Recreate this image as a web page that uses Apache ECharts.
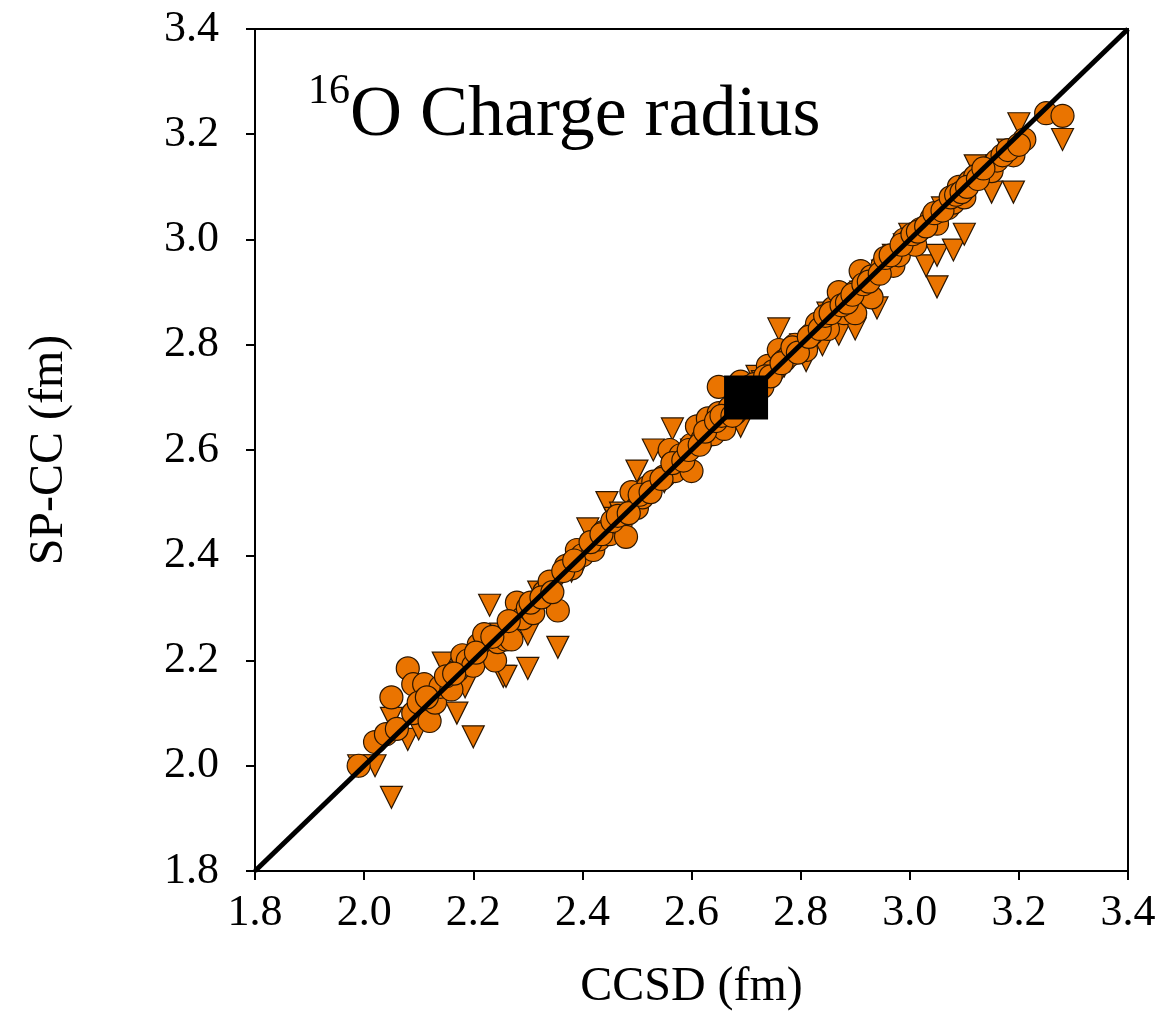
<!DOCTYPE html>
<html>
<head>
<meta charset="utf-8">
<script src="https://cdn.jsdelivr.net/npm/echarts@6/dist/echarts.min.js"></script>
<style>
  html, body { margin: 0; padding: 0; background: #fff; }
  #chart { width: 1163px; height: 1016px; }
</style>
</head>
<body>
<div id="chart"></div>
<script>
// Axis range and ticks (fm)
const axisMin = 1.8;
const axisMax = 3.4;
const tickStep = 0.2;

// [CCSD, SP-CC] pairs, circle-marker set
const circlePoints = [
  [1.99,2.00],[2.02,2.045],[2.04,2.06],[2.05,2.13],[2.06,2.07],[2.08,2.185],[2.09,2.155],[2.09,2.10],
  [2.11,2.155],[2.10,2.12],[2.12,2.085],[2.13,2.12],[2.14,2.15],[2.16,2.145],[2.15,2.17],[2.17,2.18],
  [2.18,2.21],[2.19,2.20],[2.20,2.19],[2.21,2.23],[2.22,2.25],[2.24,2.20],[2.245,2.235],[2.26,2.24],
  [2.27,2.24],[2.28,2.31],[2.29,2.28],[2.30,2.30],[2.31,2.29],[2.33,2.33],[2.34,2.35],[2.355,2.295],
  [2.37,2.38],[2.38,2.375],[2.39,2.41],[2.40,2.40],[2.42,2.41],[2.43,2.43],[2.44,2.445],[2.45,2.44],
  [2.47,2.46],[2.48,2.435],[2.49,2.52],[2.50,2.49],[2.51,2.51],[2.52,2.53],[2.53,2.54],[2.55,2.55],
  [2.56,2.60],[2.57,2.56],[2.58,2.59],[2.60,2.56],[2.60,2.61],[2.61,2.645],[2.62,2.62],[2.63,2.66],
  [2.64,2.63],[2.65,2.67],[2.65,2.72],[2.66,2.64],[2.67,2.68],[2.68,2.67],[2.69,2.73],[2.72,2.71],
  [2.73,2.72],[2.74,2.76],[2.75,2.75],[2.76,2.79],[2.77,2.77],[2.78,2.78],[2.79,2.80],[2.80,2.79],
  [2.81,2.79],[2.82,2.82],[2.83,2.84],[2.85,2.83],[2.86,2.87],[2.87,2.90],[2.88,2.86],[2.90,2.86],
  [2.90,2.90],[2.91,2.94],[2.93,2.89],[2.93,2.93],[2.95,2.95],[2.96,2.955],[2.97,2.95],[2.98,2.97],
  [2.99,3.00],[3.00,3.00],[3.01,2.99],[3.02,3.02],[3.04,3.04],[3.05,3.03],[3.07,3.06],[3.08,3.07],
  [3.09,3.10],[3.10,3.08],[3.11,3.11],[3.12,3.12],[3.14,3.13],[3.15,3.13],[3.16,3.15],[3.19,3.16],
  [3.21,3.19],[3.25,3.24],[3.28,3.235],
  [2.115,2.13],[2.165,2.175],[2.205,2.215],[2.235,2.245],[2.265,2.275],[2.305,2.31],[2.325,2.32],
  [2.345,2.33],[2.365,2.37],[2.385,2.39],[2.415,2.425],[2.435,2.44],[2.455,2.465],[2.465,2.475],
  [2.485,2.48],[2.505,2.515],[2.525,2.52],[2.545,2.545],[2.565,2.575],[2.585,2.58],[2.595,2.60],
  [2.615,2.61],[2.625,2.635],[2.645,2.655],[2.655,2.665],[2.675,2.665],[2.705,2.72],[2.715,2.725],
  [2.735,2.74],[2.745,2.74],[2.765,2.765],[2.785,2.795],[2.795,2.785],[2.815,2.815],[2.835,2.83],
  [2.845,2.855],[2.855,2.86],[2.875,2.875],[2.885,2.88],[2.895,2.895],[2.915,2.915],[2.925,2.92],
  [2.945,2.935],[2.955,2.965],[2.965,2.97],[2.985,2.99],[3.005,3.01],[3.015,3.015],[3.03,3.025],
  [3.045,3.05],[3.06,3.055],[3.075,3.08],[3.085,3.085],[3.095,3.09],[3.105,3.10],[3.125,3.115],
  [3.135,3.135],[3.17,3.16],[3.18,3.17],[3.20,3.18]
];

// [CCSD, SP-CC] pairs, down-triangle set
const trianglePoints = [
  [1.99,2.00],[2.02,2.00],[2.05,1.94],[2.05,2.09],[2.08,2.05],[2.10,2.07],[2.145,2.195],[2.17,2.10],
  [2.185,2.15],[2.20,2.055],[2.23,2.305],[2.255,2.17],[2.26,2.17],[2.30,2.25],[2.30,2.185],[2.355,2.225],
  [2.35,2.34],[2.40,2.39],[2.41,2.45],[2.445,2.50],[2.47,2.48],[2.50,2.56],[2.52,2.52],[2.53,2.60],
  [2.565,2.64],[2.58,2.58],[2.61,2.63],[2.63,2.63],[2.65,2.64],[2.69,2.645],[2.70,2.70],[2.72,2.74],
  [2.75,2.75],[2.76,2.83],[2.78,2.77],[2.80,2.80],[2.81,2.77],[2.84,2.80],[2.85,2.86],[2.87,2.82],
  [2.88,2.89],[2.90,2.83],[2.92,2.92],[2.94,2.87],[2.95,2.94],[2.97,2.97],[2.99,2.99],[3.00,3.01],
  [3.03,2.95],[3.05,2.97],[3.05,2.91],[3.06,3.06],[3.08,2.98],[3.10,3.01],[3.12,3.14],[3.13,3.12],
  [3.15,3.09],[3.18,3.17],[3.19,3.09],[3.20,3.22],[3.28,3.19],
  [2.16,2.16],[2.21,2.20],[2.25,2.25],[2.28,2.27],[2.32,2.33],[2.38,2.37],[2.43,2.42],[2.46,2.47],
  [2.49,2.50],[2.55,2.54],[2.60,2.60],[2.67,2.66],[2.73,2.73],[2.77,2.76],[2.83,2.82],[2.86,2.85],
  [2.91,2.90],[2.96,2.95],[3.02,3.01],[3.09,3.08],[3.11,3.09],[3.16,3.14]
];

// Reference point (square)
const referencePoint = [[2.70, 2.70]];

// Diagonal y = x
const diagonal = [[axisMin, axisMin], [axisMax, axisMax]];

const serif = '"Liberation Serif", "DejaVu Serif", serif';
const orange = '#EA7400';
const edge = '#2b1600';

const chart = echarts.init(document.getElementById('chart'), null, { renderer: 'canvas' });

const axisCommon = {
  type: 'value',
  min: axisMin,
  max: axisMax,
  interval: tickStep,
  splitLine: { show: false },
  axisLine: { show: true, lineStyle: { color: '#000', width: 2 } },
  axisTick: { show: true, inside: false, length: 9, lineStyle: { color: '#000', width: 2 } },
  nameTextStyle: { fontFamily: serif, fontSize: 48, color: '#000' }
};

chart.setOption({
  animation: false,
  backgroundColor: '#fff',
  title: {
    left: 303,
    top: 66,
    text: '{sup|16}{main|O Charge radius}',
    textStyle: {
      fontWeight: 'normal',
      rich: {
        sup: { fontFamily: serif, fontSize: 42, fontWeight: 'normal', color: '#000', verticalAlign: 'top', lineHeight: 70 },
        main: { fontFamily: serif, fontSize: 72, fontWeight: 'normal', color: '#000', lineHeight: 70, padding: [20, 0, 0, 0] }
      }
    }
  },
  grid: {
    left: 255, top: 29, width: 873, height: 842,
    show: true, borderColor: '#000', borderWidth: 2, backgroundColor: 'transparent'
  },
  xAxis: Object.assign({}, axisCommon, {
    name: 'CCSD (fm)',
    nameLocation: 'middle',
    nameGap: 92,
    axisLabel: {
      margin: 20, fontFamily: serif, fontSize: 44, color: '#000',
      formatter: v => v.toFixed(1)
    }
  }),
  yAxis: Object.assign({}, axisCommon, {
    name: 'SP-CC (fm)',
    nameLocation: 'middle',
    nameGap: 182,
    axisLabel: {
      margin: 36, fontFamily: serif, fontSize: 44, color: '#000',
      formatter: v => v.toFixed(1)
    }
  }),
  series: [
    {
      name: 'triangles',
      type: 'scatter',
      data: trianglePoints,
      symbol: 'triangle',
      symbolRotate: 180,
      symbolSize: 22,
      itemStyle: { color: orange, opacity: 1, borderColor: edge, borderWidth: 1.2 },
      z: 2
    },
    {
      name: 'circles',
      type: 'scatter',
      data: circlePoints,
      symbol: 'circle',
      symbolSize: 23,
      itemStyle: { color: orange, opacity: 1, borderColor: edge, borderWidth: 1.2 },
      z: 3
    },
    {
      name: 'diagonal',
      type: 'line',
      data: diagonal,
      symbol: 'none',
      lineStyle: { color: '#000', width: 5 },
      z: 4
    },
    {
      name: 'reference',
      type: 'scatter',
      data: referencePoint,
      symbol: 'rect',
      symbolSize: 44,
      itemStyle: { color: '#000', opacity: 1 },
      z: 5
    }
  ]
});
</script>
</body>
</html>
